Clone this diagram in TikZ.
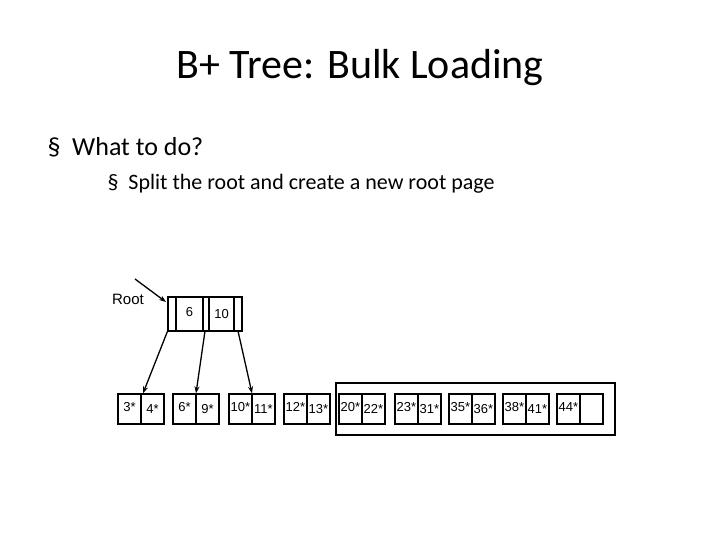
\documentclass[tikz,border=0pt]{standalone}
\usepackage{fontspec}
\setmainfont{Carlito}
\newfontfamily\arialfont{Liberation Sans}
\usetikzlibrary{positioning,arrows.meta}

\begin{document}
\begin{tikzpicture}[x=1pt,y=-1pt,
  leafbox/.style={draw, line width=1.3pt, minimum width=46pt, minimum height=30pt, inner sep=0pt},
  keytext/.style={font=\arialfont\fontsize{13}{13}\selectfont, inner sep=0pt},
  ptr/.style={-{Stealth[length=7pt,width=5pt]}, line width=1.3pt}]
  \useasboundingbox (0,0) rectangle (720,540);

  % Title and bullets
  \node (title) at (360,68) {\fontsize{42}{46}\selectfont B+ Tree: Bulk Loading};
  \node[anchor=west] (b1) at (44,147) {\fontsize{26}{30}\selectfont\S\ \ What to do?};
  \node[anchor=west] (b2) at (104,184) {\fontsize{22}{26}\selectfont\S\ \ Split the root and create a new root page};

  % Root page
  \node[draw, line width=1.3pt, minimum width=74pt, minimum height=34pt, inner sep=0pt] (root) at (205,314) {};
  \foreach \x in {176,203,209,234}
    \draw[line width=1.3pt] (\x,297) -- (\x,331);
  \node[keytext] (k1) at (189.5,312) {6};
  \node[keytext] (k2) at (221.5,314) {10};
  \node[font=\arialfont\fontsize{15}{15}\selectfont] (rootlbl) at (128,299) {Root};
  \coordinate (rootsrc) at (135,279);
  \coordinate (roottip) at (166,302);
  \draw[ptr] (rootsrc) -- (roottip);

  % Leaf pages
  \foreach \i/\x/\a/\b in {1/141/3*/4*, 2/196/6*/9*, 3/252/10*/11*, 4/307/12*/13*,
      5/362/20*/22*, 6/418/23*/31*, 7/472/35*/36*, 8/526/38*/41*, 9/580/44*/{}} {
    \node[leafbox] (leaf\i) at (\x,409) {};
    \draw[line width=1.3pt] (leaf\i.north) -- (leaf\i.south);
    \node[keytext] at ([xshift=-11.5pt,yshift=2pt]leaf\i.center) {\a};
    \node[keytext] at ([xshift=11.5pt]leaf\i.center) {\b};
  }

  % Pages not yet in the tree
  \draw[line width=1.5pt] (336,383) rectangle (615,435);

  % Child pointers
  \draw[ptr] (root.south west) -- ([xshift=2pt]leaf1.north);
  \draw[ptr] (205,331) -- (leaf2.north);
  \draw[ptr] (238,331) -- (leaf3.north);
\end{tikzpicture}
\end{document}
